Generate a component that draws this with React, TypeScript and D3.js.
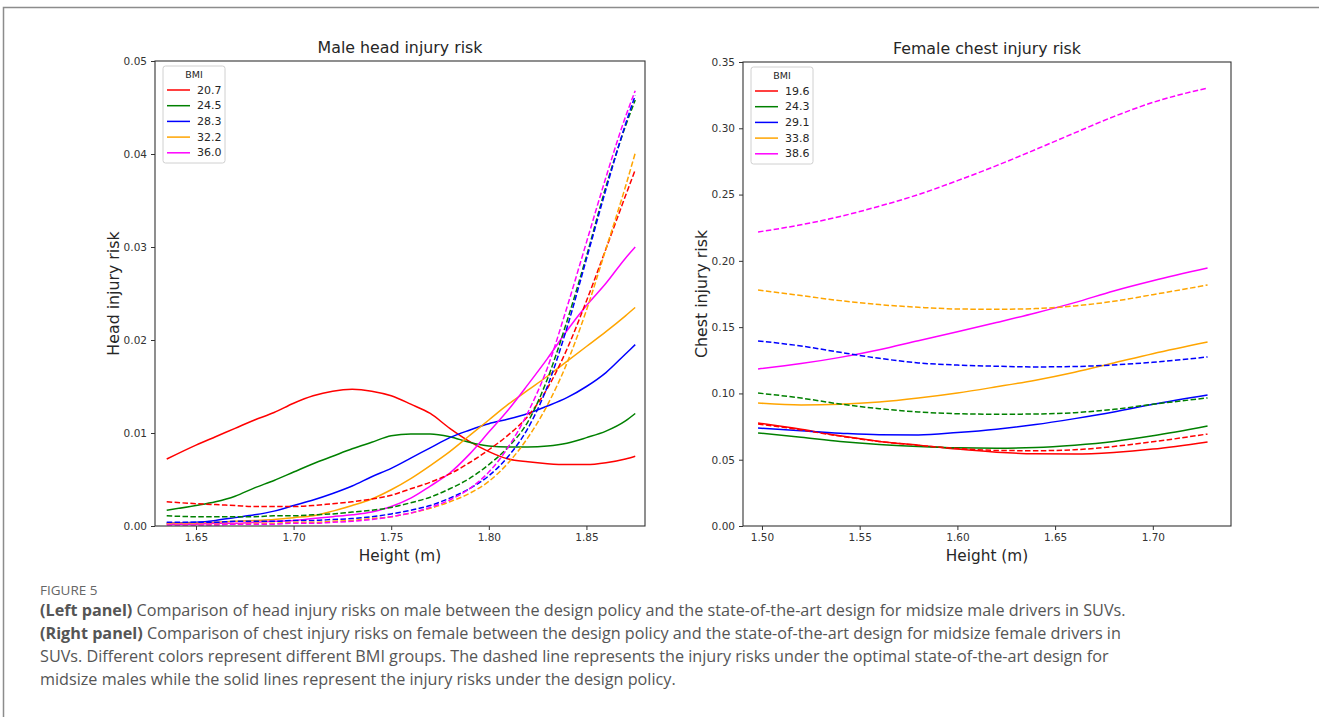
import React, { useEffect, useRef } from "react";
import * as d3 from "d3";

// ---------- data ----------
const maleHeights = [1.635, 1.65, 1.66, 1.67, 1.68, 1.69, 1.70, 1.71, 1.72, 1.73, 1.74, 1.75, 1.76, 1.77, 1.78, 1.79, 1.80, 1.81, 1.82, 1.83, 1.84, 1.85, 1.86, 1.87, 1.875];
const maleBMI = ["20.7", "24.5", "28.3", "32.2", "36.0"];
const maleSolid20_7 = [0.0072, 0.0087, 0.0096, 0.0105, 0.0114, 0.0122, 0.0132, 0.0140, 0.0145, 0.0147, 0.0145, 0.0140, 0.0131, 0.0121, 0.0105, 0.0091, 0.0080, 0.0072, 0.0069, 0.0067, 0.0066, 0.0066, 0.0068, 0.0072, 0.0075];
const maleSolid24_5 = [0.0017, 0.0022, 0.0026, 0.0032, 0.0041, 0.0049, 0.0058, 0.0067, 0.0075, 0.0083, 0.0090, 0.0097, 0.0099, 0.0099, 0.0096, 0.0090, 0.0086, 0.0085, 0.0085, 0.0086, 0.0089, 0.0095, 0.0102, 0.0113, 0.0121];
const maleSolid28_3 = [0.0003, 0.0004, 0.0006, 0.0009, 0.0012, 0.0016, 0.0022, 0.0028, 0.0035, 0.0043, 0.0053, 0.0062, 0.0073, 0.0084, 0.0095, 0.0103, 0.0110, 0.0115, 0.0121, 0.0129, 0.0138, 0.0150, 0.0165, 0.0185, 0.0195];
const maleSolid32_2 = [0.0003, 0.0003, 0.0004, 0.0005, 0.0006, 0.0007, 0.0009, 0.0011, 0.0016, 0.0022, 0.0029, 0.0039, 0.0051, 0.0065, 0.0080, 0.0097, 0.0114, 0.0131, 0.0146, 0.0161, 0.0177, 0.0193, 0.0209, 0.0226, 0.0235];
const maleSolid36_0 = [0.0002, 0.0002, 0.0003, 0.0003, 0.0004, 0.0005, 0.0006, 0.0008, 0.0010, 0.0012, 0.0015, 0.0021, 0.0030, 0.0043, 0.0057, 0.0077, 0.0101, 0.0125, 0.0152, 0.0180, 0.0210, 0.0237, 0.0261, 0.0288, 0.0300];
const maleDash20_7 = [0.0026, 0.0024, 0.0023, 0.0022, 0.0021, 0.0021, 0.0021, 0.0022, 0.0024, 0.0026, 0.0029, 0.0033, 0.0040, 0.0047, 0.0056, 0.0068, 0.0082, 0.0098, 0.0118, 0.0148, 0.0190, 0.0242, 0.0298, 0.0355, 0.0383];
const maleDash24_5 = [0.0011, 0.0010, 0.0010, 0.0010, 0.0010, 0.0011, 0.0011, 0.0012, 0.0013, 0.0015, 0.0017, 0.0020, 0.0025, 0.0031, 0.0040, 0.0051, 0.0066, 0.0085, 0.0112, 0.0158, 0.0220, 0.0290, 0.0365, 0.0430, 0.0458];
const maleDash28_3 = [0.0004, 0.0004, 0.0004, 0.0005, 0.0005, 0.0005, 0.0006, 0.0006, 0.0007, 0.0008, 0.0010, 0.0013, 0.0017, 0.0022, 0.0030, 0.0040, 0.0054, 0.0075, 0.0105, 0.0150, 0.0213, 0.0287, 0.0362, 0.0432, 0.0463];
const maleDash32_2 = [0.0002, 0.0002, 0.0002, 0.0002, 0.0003, 0.0003, 0.0004, 0.0004, 0.0005, 0.0006, 0.0008, 0.0010, 0.0014, 0.0019, 0.0026, 0.0035, 0.0048, 0.0068, 0.0095, 0.0130, 0.0175, 0.0232, 0.0298, 0.0365, 0.0401];
const maleDash36_0 = [0.0001, 0.0001, 0.0001, 0.0002, 0.0002, 0.0002, 0.0003, 0.0003, 0.0004, 0.0005, 0.0007, 0.0010, 0.0014, 0.0020, 0.0028, 0.0040, 0.0058, 0.0085, 0.0122, 0.0170, 0.0235, 0.0305, 0.0375, 0.0440, 0.0468];

const femaleHeights = [1.498, 1.52, 1.54, 1.56, 1.58, 1.60, 1.62, 1.64, 1.66, 1.68, 1.70, 1.728];
const femaleBMI = ["19.6", "24.3", "29.1", "33.8", "38.6"];
const femSolid19_6 = [0.0777, 0.0730, 0.0680, 0.0638, 0.0610, 0.0580, 0.0557, 0.0545, 0.0543, 0.0555, 0.0580, 0.0634];
const femSolid24_3 = [0.0702, 0.0670, 0.0638, 0.0615, 0.0600, 0.0590, 0.0587, 0.0592, 0.0610, 0.0638, 0.0680, 0.0754];
const femSolid29_1 = [0.0739, 0.0718, 0.0700, 0.0688, 0.0687, 0.0705, 0.0730, 0.0765, 0.0810, 0.0860, 0.0918, 0.0988];
const femSolid33_8 = [0.0928, 0.0913, 0.0918, 0.0935, 0.0965, 0.1003, 0.1050, 0.1100, 0.1160, 0.1230, 0.1300, 0.1388];
const femSolid38_6 = [0.1184, 0.1225, 0.1272, 0.1330, 0.1398, 0.1465, 0.1535, 0.1607, 0.1685, 0.1773, 0.1850, 0.1946];
const femDash19_6 = [0.0770, 0.0725, 0.0678, 0.0638, 0.0608, 0.0585, 0.0570, 0.0568, 0.0575, 0.0600, 0.0635, 0.0694];
const femDash24_3 = [0.1003, 0.0965, 0.0920, 0.0885, 0.0860, 0.0847, 0.0843, 0.0845, 0.0855, 0.0880, 0.0918, 0.0966];
const femDash29_1 = [0.1396, 0.1358, 0.1310, 0.1265, 0.1230, 0.1214, 0.1205, 0.1200, 0.1203, 0.1215, 0.1235, 0.1275];
const femDash33_8 = [0.1780, 0.1738, 0.1700, 0.1670, 0.1650, 0.1637, 0.1635, 0.1640, 0.1660, 0.1695, 0.1745, 0.1818];
const femDash38_6 = [0.2218, 0.2272, 0.2335, 0.2412, 0.2500, 0.2605, 0.2718, 0.2840, 0.2965, 0.3088, 0.3195, 0.3304];

const maleXTicks = [1.65, 1.70, 1.75, 1.80, 1.85];
const maleYTicks = [0, 0.01, 0.02, 0.03, 0.04, 0.05];
const femXTicks = [1.50, 1.55, 1.60, 1.65, 1.70];
const femYTicks = [0, 0.05, 0.10, 0.15, 0.20, 0.25, 0.30, 0.35];

const colors = ["red", "green", "blue", "orange", "magenta"];

const maleSolid = [maleSolid20_7, maleSolid24_5, maleSolid28_3, maleSolid32_2, maleSolid36_0];
const maleDash = [maleDash20_7, maleDash24_5, maleDash28_3, maleDash32_2, maleDash36_0];
const femSolid = [femSolid19_6, femSolid24_3, femSolid29_1, femSolid33_8, femSolid38_6];
const femDash = [femDash19_6, femDash24_3, femDash29_1, femDash33_8, femDash38_6];

const captionLines: { bold?: string; text: string }[] = [
  { bold: "(Left panel)", text: " Comparison of head injury risks on male between the design policy and the state-of-the-art design for midsize male drivers in SUVs." },
  { bold: "(Right panel)", text: " Comparison of chest injury risks on female between the design policy and the state-of-the-art design for midsize female drivers in" },
  { text: "SUVs. Different colors represent different BMI groups. The dashed line represents the injury risks under the optimal state-of-the-art design for" },
  { text: "midsize males while the solid lines represent the injury risks under the design policy." },
];

const FONT = "'DejaVu Sans', sans-serif";
const TEXT = "#262626";

type PanelProps = {
  title: string;
  yLabel: string;
  heights: number[];
  solid: number[][];
  dash: number[][];
  bmi: string[];
  xDomain: [number, number];
  yDomain: [number, number];
  xRange: [number, number];
  yRange: [number, number];
  xTicks: number[];
  yTicks: number[];
};

function Panel(p: PanelProps) {
  const xAxisRef = useRef<SVGGElement>(null);
  const yAxisRef = useRef<SVGGElement>(null);
  const x = d3.scaleLinear().domain(p.xDomain).range(p.xRange);
  const y = d3.scaleLinear().domain(p.yDomain).range(p.yRange);
  const [x0, x1] = p.xRange;
  const [yb, yt] = p.yRange;

  useEffect(() => {
    const style = (g: d3.Selection<SVGGElement, unknown, null, undefined>) => {
      g.select(".domain").remove();
      g.selectAll(".tick line").attr("stroke", "#333").attr("stroke-width", 1);
      g.selectAll(".tick text")
        .attr("fill", "#333")
        .attr("font-family", FONT)
        .attr("font-size", 10.5);
    };
    if (xAxisRef.current) {
      const g = d3.select(xAxisRef.current);
      g.call(d3.axisBottom(x).tickValues(p.xTicks).tickFormat(d3.format(".2f")).tickSize(4).tickPadding(4) as any);
      style(g);
    }
    if (yAxisRef.current) {
      const g = d3.select(yAxisRef.current);
      g.call(d3.axisLeft(y).tickValues(p.yTicks).tickFormat(d3.format(".2f")).tickSize(4).tickPadding(4) as any);
      style(g);
    }
  });

  const line = (vals: number[]) =>
    d3
      .line<number>()
      .x((_, i) => x(p.heights[i]))
      .y((v) => y(v))
      .curve(d3.curveMonotoneX)(vals) || "";

  const clipId = "clip-" + p.title.replace(/\s/g, "");
  const lx = x0 + 8;
  const ly = yt + 5;
  return (
    <g>
      <defs>
        <clipPath id={clipId}>
          <rect x={x0} y={yt} width={x1 - x0} height={yb - yt} />
        </clipPath>
      </defs>
      <g clipPath={`url(#${clipId})`}>
        {p.solid.map((s, i) => (
          <path key={"s" + i} d={line(s)} fill="none" stroke={colors[i]} strokeWidth={1.5} />
        ))}
        {p.dash.map((s, i) => (
          <path key={"d" + i} d={line(s)} fill="none" stroke={colors[i]} strokeWidth={1.5} strokeDasharray="5.5,2.4" />
        ))}
      </g>
      <rect x={x0} y={yt} width={x1 - x0} height={yb - yt} fill="none" stroke="#333" strokeWidth={1.1} />
      <g ref={xAxisRef} transform={`translate(0,${yb})`} />
      <g ref={yAxisRef} transform={`translate(${x0},0)`} />
      <text x={(x0 + x1) / 2} y={yt - 8} textAnchor="middle" fontFamily={FONT} fontSize={15.8} fill={TEXT}>
        {p.title}
      </text>
      <text x={(x0 + x1) / 2} y={yb + 35} textAnchor="middle" fontFamily={FONT} fontSize={15.3} fill={TEXT}>
        Height (m)
      </text>
      <text
        transform={`translate(${x0 - 42},${(yb + yt) / 2}) rotate(-90)`}
        textAnchor="middle"
        dominantBaseline="central"
        fontFamily={FONT}
        fontSize={15.8}
        fill={TEXT}
      >
        {p.yLabel}
      </text>
      {/* legend */}
      <rect x={lx} y={ly} width={62} height={97} rx={2.5} fill="white" fillOpacity={0.85} stroke="#d0d0d0" strokeWidth={1} />
      <text x={lx + 31} y={ly + 12} textAnchor="middle" fontFamily={FONT} fontSize={9.5} fill={TEXT}>
        BMI
      </text>
      {p.bmi.map((b, i) => (
        <g key={b}>
          <line x1={lx + 4} x2={lx + 27} y1={ly + 24 + i * 15.7} y2={ly + 24 + i * 15.7} stroke={colors[i]} strokeWidth={1.5} />
          <text x={lx + 34} y={ly + 24 + i * 15.7} dominantBaseline="central" fontFamily={FONT} fontSize={11} fill={TEXT}>
            {b}
          </text>
        </g>
      ))}
    </g>
  );
}

export default function App() {
  return (
    <svg width={1319} height={717} style={{ position: "absolute", left: 0, top: 0, background: "white" }}>
      <rect x={0} y={0} width={1319} height={717} fill="white" />
      <path d="M3.5,717 V7.5 H1319" fill="none" stroke="#8c8c8c" strokeWidth={1.5} />
      <Panel
        title="Male head injury risk"
        yLabel="Head injury risk"
        heights={maleHeights}
        solid={maleSolid}
        dash={maleDash}
        bmi={maleBMI}
        xDomain={[1.629, 1.880]}
        yDomain={[0, 0.05]}
        xRange={[155, 645]}
        yRange={[526, 61]}
        xTicks={maleXTicks}
        yTicks={maleYTicks}
      />
      <Panel
        title="Female chest injury risk"
        yLabel="Chest injury risk"
        heights={femaleHeights}
        solid={femSolid}
        dash={femDash}
        bmi={femaleBMI}
        xDomain={[1.4903, 1.740]}
        yDomain={[0, 0.35]}
        xRange={[743, 1231]}
        yRange={[526, 62]}
        xTicks={femXTicks}
        yTicks={femYTicks}
      />
      <text x={40} y={595} fontFamily="'Open Sans', sans-serif" fontSize={13.5} fill="#666">
        FIGURE 5
      </text>
      {captionLines.map((l, i) => (
        <text key={i} x={40} y={616 + i * 23} fontFamily="'Open Sans', sans-serif" fontSize={16.2} fill="#555">
          {l.bold ? <tspan fontWeight={700}>{l.bold}</tspan> : null}
          <tspan>{l.text}</tspan>
        </text>
      ))}
    </svg>
  );
}
